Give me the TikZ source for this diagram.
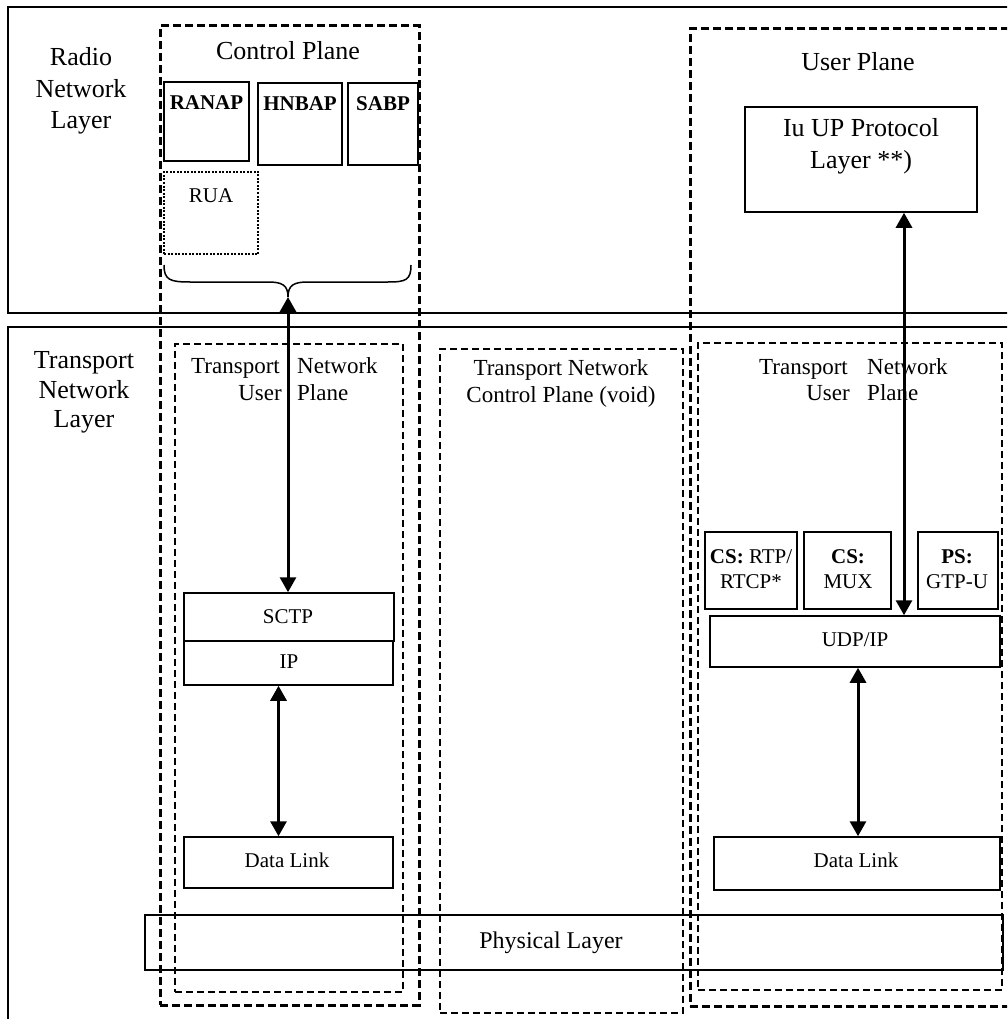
\documentclass[tikz,border=0pt]{standalone}
\usepackage{fontspec}
\setmainfont{Liberation Serif}
\usetikzlibrary{arrows.meta,calc}
\begin{document}
\begin{tikzpicture}[x=1pt,y=-1pt,
 big/.style={font=\fontsize{26}{31}\selectfont, inner sep=0pt, anchor=base},
 med/.style={font=\fontsize{23}{27}\selectfont, inner sep=0pt, anchor=base},
 sm/.style={font=\fontsize{21}{25}\selectfont, inner sep=0pt, anchor=base},
 box/.style={draw, line width=1.5pt, inner sep=0pt},
 layerbox/.style={draw, line width=1.5pt, inner sep=0pt},
 thickdash/.style={draw, line width=3pt, dash pattern=on 8pt off 4pt, inner sep=0pt},
 thindash/.style={draw, line width=2.2pt, dash pattern=on 7pt off 4pt, inner sep=0pt},
 dotbox/.style={draw, line width=2pt, dash pattern=on 2pt off 1.5pt, inner sep=0pt},
 biarrow/.style={line width=3pt, {Triangle[length=15pt,width=16pt]}-{Triangle[length=15pt,width=16pt]}},
 bracestyle/.style={line width=1.5pt},
]
\path[use as bounding box] (0,0) rectangle (1007,1019);
\clip (0,0) rectangle (1007,1019);

% layers
\node[layerbox, minimum width=1007, minimum height=306] (rnl) at (511.5,160) {};
\node[layerbox, minimum width=1007, minimum height=703] (tnl) at (511.5,678.5) {};

% radio network layer texts
\node[big] (rnlA) at (81,66) {Radio};
\node[big] (rnlB) at (81,98) {Network};
\node[big] (rnlC) at (81,129) {Layer};
\node[big] (tnlA) at (84,368) {Transport};
\node[big] (tnlB) at (84,398) {Network};
\node[big] (tnlC) at (84,427) {Layer};

% containers
\node[thickdash, minimum width=259, minimum height=979] (cp) at (289.5,515.5) {};
\node[thindash, minimum width=228, minimum height=648] (tnupL) at (289,668) {};
\node[thindash, minimum width=243, minimum height=664] (tncp) at (561.5,681) {};
\node[thickdash, minimum width=325, minimum height=977] (up) at (852.5,517.5) {};
\node[thindash, minimum width=304, minimum height=647] (tnupR) at (850,666.5) {};

\node[big] (cpT) at (288,60) {Control Plane};
\node[big] (upT) at (858,71) {User Plane};

% control plane protocol boxes
\node[box, minimum width=85, minimum height=79] (ranap) at (206.5,121.5) {};
\node[box, minimum width=84, minimum height=82] (hnbap) at (300,124) {};
\node[box, minimum width=70, minimum height=82] (sabp) at (383,124) {};
\node[dotbox, minimum width=94, minimum height=82] (rua) at (211,213) {};
\node[sm] (ranapT) at (206.5,110) {\textbf{RANAP}};
\node[sm] (hnbapT) at (300,111) {\textbf{HNBAP}};
\node[sm] (sabpT) at (383,111) {\textbf{SABP}};
\node[sm] (ruaT) at (211,202) {RUA};

% brace
\coordinate (bracetip) at (288,297);
\draw[bracestyle] (164,265) .. controls (164,280) and (170,282) .. (190,282) -- (268,282)
  .. controls (282,282) and (288,285) .. (bracetip)
  .. controls (288,285) and (294,282) .. (308,282) -- (388,282)
  .. controls (406,282) and (411,280) .. (411,265);

% left transport user plane
\node[med, anchor=base east] (tlA) at (280,373) {Transport};
\node[med, anchor=base west] (tlB) at (297,373) {Network};
\node[med, anchor=base east] (tlC) at (282,400) {User};
\node[med, anchor=base west] (tlD) at (297,400) {Plane};

\node[box, minimum width=210, minimum height=48] (sctp) at (289,617) {};
\node[box, minimum width=209, minimum height=44] (ip) at (288.5,663) {};
\node[box, minimum width=209, minimum height=51] (dlL) at (288.5,862.5) {};
\node[sm] (sctpT) at (288,623) {SCTP};
\node[sm] (ipT) at (289,668) {IP};
\node[sm] (dlLT) at (287,867) {Data Link};

% transport network control plane
\node[med] (tcA) at (561,375) {Transport Network};
\node[med] (tcB) at (561,402) {Control Plane (void)};

% user plane
\node[box, minimum width=232, minimum height=105] (iu) at (861,159.5) {};
\node[big] (iuA) at (861,137) {Iu UP Protocol};
\node[big] (iuB) at (861,169) {Layer **)};

\node[med, anchor=base east] (trA) at (848,374) {Transport};
\node[med, anchor=base west] (trB) at (867,374) {Network};
\node[med, anchor=base east] (trC) at (850,400) {User};
\node[med, anchor=base west] (trD) at (867,400) {Plane};

\node[box, minimum width=92, minimum height=77] (rtp) at (751,570.5) {};
\node[box, minimum width=87, minimum height=77] (mux) at (847.5,570.5) {};
\node[box, minimum width=80, minimum height=77] (gtp) at (958,570.5) {};
\node[sm] (rtpA) at (751,563) {\textbf{CS:} RTP/};
\node[sm] (rtpB) at (751,588) {RTCP*};
\node[sm] (muxA) at (848,563) {\textbf{CS:}};
\node[sm] (muxB) at (848,588) {MUX};
\node[sm] (gtpA) at (957,563) {\textbf{PS:}};
\node[sm] (gtpB) at (957,588) {GTP-U};

\node[box, minimum width=290, minimum height=51] (udp) at (855,641.5) {};
\node[box, minimum width=286, minimum height=53] (dlR) at (857,863.5) {};
\node[sm] (udpT) at (855,646) {UDP/IP};
\node[sm] (dlRT) at (856,867) {Data Link};

% physical layer
\node[box, minimum width=858, minimum height=55] (phy) at (574,942.5) {};
\node[med, font=\fontsize{24}{28}\selectfont] (phyT) at (551,948) {Physical Layer};

% arrows
\draw[biarrow] (bracetip) -- (bracetip |- sctp.north);
\draw[biarrow] ([xshift=-10pt]ip.south) -- ([xshift=-10pt]ip.south |- dlL.north);
\draw[biarrow] ([xshift=43pt]iu.south) -- ([xshift=43pt]iu.south |- udp.north);
\draw[biarrow] ([xshift=3pt]udp.south) -- ([xshift=3pt]udp.south |- dlR.north);
\end{tikzpicture}
\end{document}
